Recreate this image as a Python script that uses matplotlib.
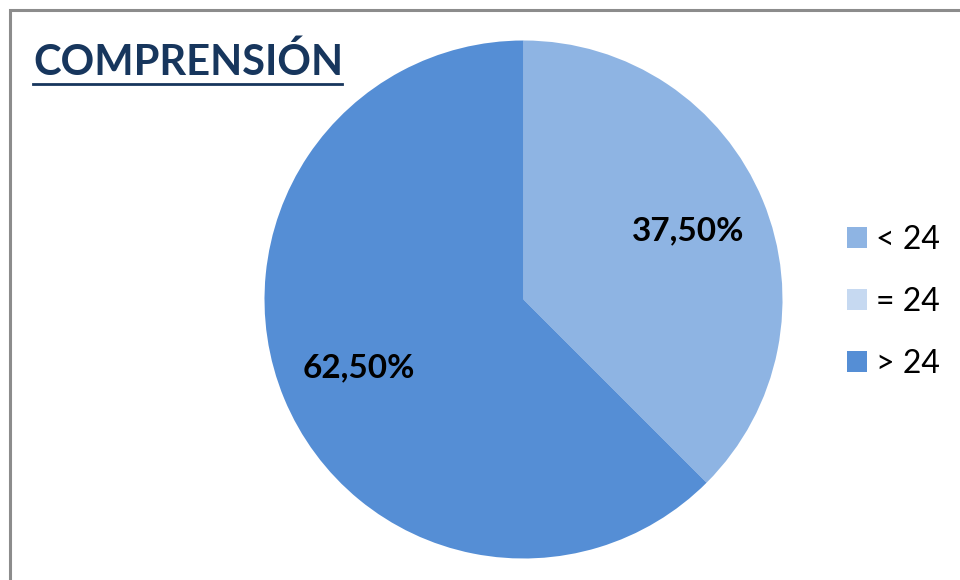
import matplotlib
matplotlib.use('Agg')
from matplotlib import pyplot as plt
from matplotlib.patches import Rectangle
from matplotlib.lines import Line2D

labels = ['< 24', '= 24', '> 24']
values = [37.5, 0.0, 62.5]
colors = ['#8EB4E3', '#C6D9F1', '#558ED5']
title = 'COMPRENSIÓN'

plt.rcParams['font.family'] = ['Lato', 'DejaVu Sans']

W, H = 960, 580
fig = plt.figure(figsize=(W / 100, H / 100), dpi=100)

# frame of the chart area
fig.add_artist(Rectangle((9.5 / W, -0.1), 1.2, 1.1 - 10.5 / H,
                         transform=fig.transFigure, fill=False,
                         edgecolor='#8C8C8C', linewidth=2.2))

# pie axes: centre (523.5, 299.5) px, radius 259 px
cx, cy, r = 523.5, 299.5, 259
ax = fig.add_axes([(cx - r) / W, (H - cy - r) / H, 2 * r / W, 2 * r / H])


def pct(p):
    if p <= 0:
        return ''
    return ('%.2f%%' % p).replace('.', ',')


wedges, texts, autotexts = ax.pie(
    values, colors=colors, startangle=90, counterclock=False,
    autopct=pct, pctdistance=0.69, radius=1,
    textprops=dict(fontsize=24, fontweight='bold', color='black'))
ax.set_xlim(-1, 1)
ax.set_ylim(-1, 1)
ax.set_aspect('equal')
ax.axis('off')

# title with underline
fig.text(33 / W, 1 - 62 / H, title, fontsize=30, fontweight='bold',
         color='#17365D', va='center', ha='left')
fig.add_artist(Line2D([33 / W, 342 / W], [1 - 84 / H, 1 - 84 / H],
                      color='#17365D', linewidth=2))

fig.legend(wedges, labels, loc='center left',
           bbox_to_anchor=(818 / W, 1 - 302 / H), frameon=False,
           fontsize=23, handlelength=0.63, handleheight=0.63,
           handletextpad=0.3, labelspacing=1.0)

fig.savefig('out.png', dpi=100)
